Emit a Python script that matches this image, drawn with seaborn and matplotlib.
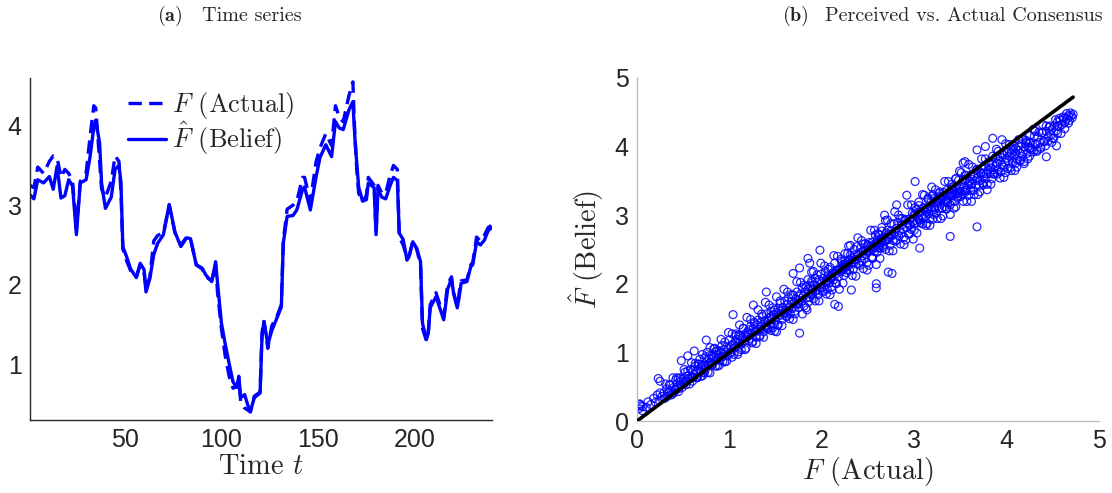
import numpy as np
import pandas as pd
import seaborn as sns
import matplotlib.pyplot as plt

# ---------------- time series: actual consensus vs. belief ----------------
time_t = [1, 3, 5, 8, 11, 13, 15, 17, 19, 21, 23, 25, 27, 30, 32, 34, 35, 37, 38, 40,
          43, 45, 47, 48, 49, 51, 53, 56, 58, 60, 61, 63, 65, 67, 70, 73, 76, 79, 82, 84,
          87, 90, 92, 95, 97, 98, 100, 102, 104, 106, 108, 109, 110, 112, 114, 115, 117, 120, 121, 122,
          124, 126, 129, 131, 132, 134, 137, 139, 142, 143, 146, 149, 151, 154, 157, 159, 161, 163, 166, 168,
          169, 170, 171, 173, 175, 176, 179, 180, 181, 183, 185, 187, 189, 191, 192, 194, 196, 197, 199, 201,
          203, 204, 206, 207, 208, 211, 215, 217, 219, 220, 222, 223, 224, 227, 229, 230, 232, 234, 236, 238,
          240]
belief = [3.13, 3.08, 3.32, 3.28, 3.36, 3.20, 3.49, 3.09, 3.12, 3.32, 3.24, 2.63, 3.28, 3.32, 3.60, 3.98, 4.07, 3.78, 3.28, 2.96,
          3.10, 3.45, 3.50, 3.30, 2.48, 2.35, 2.20, 2.09, 2.27, 2.19, 1.91, 2.08, 2.38, 2.52, 2.63, 3.01, 2.66, 2.48, 2.59, 2.58,
          2.25, 2.21, 2.12, 2.04, 2.29, 2.02, 1.52, 1.25, 1.01, 0.78, 0.71, 0.85, 0.58, 0.62, 0.46, 0.41, 0.58, 0.64, 1.35, 1.54,
          1.25, 1.42, 1.60, 1.72, 2.52, 2.86, 2.87, 2.94, 3.20, 3.23, 2.94, 3.36, 3.60, 3.76, 3.61, 4.05, 3.97, 3.95, 4.20, 4.30,
          3.86, 3.53, 3.23, 3.05, 3.07, 3.28, 3.22, 2.63, 3.20, 3.10, 3.08, 3.23, 3.35, 3.31, 2.65, 2.57, 2.31, 2.35, 2.54, 2.46,
          2.29, 1.52, 1.31, 1.39, 1.71, 1.85, 1.56, 1.94, 2.08, 1.91, 1.71, 1.85, 2.02, 2.04, 2.23, 2.25, 2.54, 2.50, 2.56, 2.68,
          2.72]
actual = [3.25, 3.22, 3.48, 3.40, 3.55, 3.62, 3.60, 3.35, 3.45, 3.40, 3.30, 2.70, 3.30, 3.40, 3.85, 4.25, 4.22, 3.55, 3.20, 3.10,
          3.30, 3.62, 3.55, 3.20, 2.45, 2.30, 2.18, 2.10, 2.25, 2.15, 1.95, 2.10, 2.55, 2.62, 2.65, 3.00, 2.65, 2.50, 2.60, 2.58,
          2.25, 2.20, 2.10, 2.05, 2.25, 1.90, 1.45, 1.10, 0.85, 0.70, 0.72, 0.80, 0.52, 0.45, 0.42, 0.40, 0.60, 0.65, 1.40, 1.55,
          1.20, 1.48, 1.62, 1.75, 2.55, 2.95, 3.00, 3.05, 3.35, 3.35, 3.05, 3.55, 3.72, 3.90, 3.75, 4.25, 4.10, 4.05, 4.38, 4.55,
          3.90, 3.45, 3.15, 3.05, 3.12, 3.35, 3.25, 2.65, 3.25, 3.15, 3.15, 3.35, 3.50, 3.45, 2.60, 2.50, 2.35, 2.35, 2.55, 2.45,
          2.25, 1.45, 1.30, 1.40, 1.75, 1.90, 1.60, 2.00, 2.10, 1.90, 1.72, 1.90, 2.05, 2.06, 2.25, 2.28, 2.60, 2.55, 2.62, 2.72,
          2.75]

# ---------------- scatter: actual F vs. perceived F-hat ----------------
low_F = [0.02, 0.04, 0.06, 0.03, 0.10, 0.12, 0.15, 0.18, 0.20, 0.22, 0.24, 0.25, 0.27, 0.29, 0.30, 0.32, 0.33, 0.35,
         0.36, 0.38, 0.40, 0.41, 0.42, 0.44, 0.45, 0.47, 0.48, 0.50, 0.51, 0.52, 0.54, 0.55, 0.57, 0.58, 0.60,
         0.61, 0.62, 0.63, 0.64, 0.65, 0.66, 0.67, 0.68, 0.69, 0.70, 0.71, 0.72, 0.73, 0.74, 0.75, 0.76, 0.77, 0.78,
         0.79, 0.80, 0.81, 0.82, 0.83, 0.84, 0.85, 0.86, 0.87, 0.88, 0.89, 0.90, 0.91, 0.92, 0.93, 0.94, 0.95, 0.96,
         0.97, 0.98, 0.99, 1.00, 1.01, 1.02, 1.03, 1.04, 1.05, 1.06, 1.07, 1.08, 1.09, 1.10, 1.11, 1.12, 1.13, 1.14,
         1.15, 1.16, 1.17, 1.18, 1.19, 1.20]
low_Fhat = [0.18, 0.22, 0.15, 0.25, 0.20, 0.28, 0.24, 0.33, 0.27, 0.38, 0.30, 0.58, 0.36, 0.41, 0.33, 0.47, 0.40, 0.44,
            0.52, 0.39, 0.49, 0.45, 0.60, 0.50, 0.43, 0.57, 0.52, 0.62, 0.55, 0.71, 0.58, 0.66, 0.61, 0.75, 0.64,
            0.74, 0.68, 0.80, 0.71, 0.63, 0.83, 0.76, 0.90, 0.72, 0.82, 0.66, 0.80, 0.92, 0.75, 0.86, 1.00, 0.81, 0.91,
            0.70, 0.86, 0.95, 0.83, 0.92, 1.06, 0.88, 0.97, 0.80, 0.93, 1.02, 0.89, 0.99, 1.10, 0.94, 1.04, 0.86, 1.00,
            1.08, 0.95, 1.05, 1.18, 1.00, 1.10, 0.93, 1.12, 1.06, 1.15, 1.27, 1.09, 1.19, 1.01, 1.14, 1.24, 1.12, 1.21,
            1.35, 1.17, 1.27, 1.06, 1.22, 1.30]

mid_F = [1.21, 1.22, 1.23, 1.24, 1.25, 1.26, 1.27, 1.28, 1.29, 1.30, 1.31, 1.32, 1.33, 1.34, 1.35, 1.36, 1.37, 1.38, 1.39, 1.40,
         1.41, 1.42, 1.43, 1.44, 1.45, 1.46, 1.47, 1.48, 1.49, 1.50, 1.51, 1.52, 1.53, 1.54, 1.55, 1.56, 1.57, 1.58, 1.59, 1.60,
         1.61, 1.62, 1.63, 1.64, 1.65, 1.66, 1.67, 1.68, 1.69, 1.70, 1.71, 1.72, 1.73, 1.74, 1.75, 1.76, 1.77, 1.78, 1.79, 1.80,
         1.81, 1.82, 1.83, 1.84, 1.85, 1.86, 1.87, 1.88, 1.89, 1.90, 1.91, 1.92, 1.93, 1.94, 1.95, 1.96, 1.97, 1.98, 1.99, 2.00,
         2.01, 2.02, 2.03, 2.04, 2.05, 2.06, 2.07, 2.08, 2.09, 2.10, 2.11, 2.12, 2.13, 2.14, 2.15, 2.16, 2.17, 2.18, 2.19, 2.20,
         2.21, 2.22, 2.23, 2.24, 2.25, 2.26, 2.27, 2.28, 2.29, 2.30, 2.31, 2.32, 2.33, 2.34, 2.35, 2.36, 2.37, 2.38, 2.39, 2.40,
         2.41, 2.42, 2.43, 2.44, 2.45, 2.46, 2.47, 2.48, 2.49, 2.50, 2.51, 2.52, 2.53, 2.54, 2.55, 2.56, 2.57, 2.58, 2.59, 2.60,
         2.61, 2.62, 2.63, 2.64, 2.65, 2.66, 2.67, 2.68, 2.69, 2.70, 2.71, 2.72, 2.73, 2.74, 2.75, 2.76, 2.77, 2.78, 2.79, 2.80,
         2.81, 2.82, 2.83, 2.84, 2.85, 2.86, 2.87, 2.88, 2.89, 2.90, 2.91, 2.92, 2.93, 2.94, 2.95, 2.96, 2.97, 2.98, 2.99, 3.00,
         3.01, 3.02, 3.03, 3.04, 3.05, 3.06, 3.07, 3.08, 3.09, 3.10, 3.11, 3.12, 3.13, 3.14, 3.15, 3.16, 3.17, 3.18, 3.19, 3.20]
mid_Fhat = [1.33, 1.20, 1.38, 1.28, 1.16, 1.35, 1.42, 1.30, 1.22, 1.40, 1.47, 1.33, 1.25, 1.44, 1.38, 1.52, 1.30, 1.45, 1.37, 1.56,
            1.46, 1.34, 1.50, 1.42, 1.60, 1.48, 1.36, 1.55, 1.62, 1.47, 1.58, 1.40, 1.64, 1.55, 1.72, 1.60, 1.48, 1.66, 1.58, 1.75,
            1.62, 1.52, 1.70, 1.80, 1.66, 1.56, 1.74, 1.64, 1.84, 1.72, 1.60, 1.78, 1.88, 1.70, 1.82, 1.76, 1.85, 1.74, 1.94, 1.82,
            1.68, 1.88, 1.96, 1.80, 1.92, 1.74, 1.97, 1.86, 2.04, 1.92, 1.78, 1.98, 2.08, 1.90, 2.02, 1.84, 2.06, 1.95, 2.14, 2.01,
            1.88, 2.08, 1.98, 2.18, 2.05, 1.92, 2.12, 2.02, 2.24, 2.10, 1.96, 2.16, 2.06, 2.30, 2.14, 2.00, 2.20, 2.10, 2.22, 2.17,
            2.33, 2.20, 2.28, 2.12, 2.33, 2.25, 2.20, 2.44, 2.31, 2.20, 2.42, 2.30, 2.37, 2.21, 2.42, 2.35, 2.29, 2.54, 2.41, 2.29,
            2.45, 2.52, 2.33, 2.41, 2.58, 2.37, 2.49, 2.43, 2.31, 2.55, 2.60, 2.48, 2.55, 2.39, 2.61, 2.53, 2.47, 2.71, 2.58, 2.46,
            2.63, 2.71, 2.52, 2.60, 2.77, 2.56, 2.68, 2.62, 2.50, 2.74, 2.78, 2.65, 2.72, 2.56, 2.77, 2.70, 2.63, 2.87, 2.75, 2.62,
            2.81, 2.89, 2.70, 2.78, 2.95, 2.74, 2.86, 2.80, 2.68, 2.92, 2.94, 2.82, 2.88, 2.72, 2.94, 2.86, 2.79, 3.03, 2.91, 2.78,
            3.00, 3.08, 2.89, 2.97, 3.14, 2.93, 3.05, 2.99, 2.87, 3.11, 3.10, 2.98, 3.04, 2.88, 3.10, 3.02, 2.95, 3.19, 3.07, 2.94]

high_F = [3.21, 3.22, 3.23, 3.24, 3.25, 3.26, 3.27, 3.28, 3.29, 3.30, 3.31, 3.32, 3.33, 3.34, 3.35, 3.36, 3.37, 3.38, 3.39, 3.40,
          3.41, 3.42, 3.43, 3.44, 3.45, 3.46, 3.47, 3.48, 3.49, 3.50, 3.51, 3.52, 3.53, 3.54, 3.55, 3.56, 3.57, 3.58, 3.59, 3.60,
          3.61, 3.62, 3.63, 3.64, 3.65, 3.66, 3.67, 3.68, 3.69, 3.70, 3.71, 3.72, 3.73, 3.74, 3.75, 3.76, 3.77, 3.78, 3.79, 3.80,
          3.81, 3.82, 3.83, 3.84, 3.85, 3.86, 3.87, 3.88, 3.89, 3.90, 3.91, 3.92, 3.93, 3.94, 3.95, 3.96, 3.97, 3.98, 3.99, 4.00,
          4.01, 4.02, 4.03, 4.04, 4.05, 4.06, 4.07, 4.08, 4.09, 4.10, 4.11, 4.12, 4.13, 4.14, 4.15, 4.16, 4.17, 4.18, 4.19, 4.20,
          4.21, 4.22, 4.23, 4.25, 4.26, 4.27, 4.29, 4.30, 4.31, 4.33, 4.34, 4.36, 4.37, 4.39, 4.40, 4.42, 4.43, 4.45, 4.46, 4.48,
          4.49, 4.50, 4.52, 4.54, 4.55, 4.57, 4.58, 4.60, 4.62, 4.63, 4.65, 4.67, 4.68, 4.70, 4.71, 4.72]
high_Fhat = [3.24, 3.11, 3.19, 3.03, 3.24, 3.17, 3.10, 3.34, 3.22, 3.10, 3.27, 3.33, 3.12, 3.20, 3.36, 3.18, 3.26, 3.30, 3.15, 3.37,
             3.41, 3.28, 3.36, 3.20, 3.40, 3.33, 3.27, 3.51, 3.39, 3.27, 3.45, 3.30, 3.52, 3.41, 3.33, 3.58, 3.37, 3.44, 3.29, 3.50,
             3.58, 3.45, 3.52, 3.36, 3.57, 3.50, 3.44, 3.67, 3.55, 3.43, 3.50, 3.62, 3.68, 3.47, 3.56, 3.72, 3.53, 3.60, 3.45, 3.66,
             3.74, 3.61, 3.69, 3.53, 3.74, 3.66, 3.60, 3.84, 3.72, 3.60, 3.66, 3.79, 3.85, 3.63, 3.73, 3.88, 3.70, 3.77, 3.62, 3.83,
             3.91, 3.78, 3.86, 3.69, 3.90, 3.83, 3.77, 4.01, 3.89, 3.76, 3.82, 3.95, 4.01, 3.80, 3.90, 4.04, 3.86, 3.93, 3.78, 3.99,
             4.05, 3.90, 3.99, 3.86, 4.06, 3.98, 3.92, 4.15, 4.03, 3.95, 4.14, 4.06, 3.99, 4.20, 4.08, 4.01, 4.22, 4.14, 4.28, 4.17,
             4.25, 4.12, 4.30, 4.23, 4.36, 4.29, 4.38, 4.32, 4.41, 4.35, 4.40, 4.45, 4.38, 4.45, 4.42, 4.47]

# wider halo of the cloud, on both sides of its core
halo_F = [0.31, 0.33, 0.35, 0.37, 0.39, 0.41, 0.43, 0.45, 0.47, 0.49,
          0.51, 0.53, 0.55, 0.57, 0.59, 0.61, 0.63, 0.65, 0.67, 0.69,
          0.71, 0.73, 0.75, 0.77, 0.79, 0.81, 0.83, 0.85, 0.87, 0.89,
          0.91, 0.93, 0.95, 0.97, 0.99, 1.01, 1.03, 1.05, 1.07, 1.09,
          1.11, 1.13, 1.15, 1.17, 1.19, 1.21, 1.23, 1.25, 1.27, 1.29,
          1.31, 1.33, 1.35, 1.37, 1.39, 1.41, 1.43, 1.45, 1.47, 1.49,
          1.51, 1.53, 1.55, 1.57, 1.59, 1.61, 1.63, 1.65, 1.67, 1.69,
          1.71, 1.73, 1.75, 1.77, 1.79, 1.81, 1.83, 1.85, 1.87, 1.89,
          1.91, 1.93, 1.95, 1.97, 1.99, 2.01, 2.03, 2.05, 2.07, 2.09,
          2.11, 2.13, 2.15, 2.17, 2.19, 2.21, 2.23, 2.25, 2.27, 2.29,
          2.31, 2.33, 2.35, 2.37, 2.39, 2.41, 2.43, 2.45, 2.47, 2.49,
          2.51, 2.53, 2.55, 2.57, 2.59, 2.61, 2.63, 2.65, 2.67, 2.69,
          2.71, 2.73, 2.75, 2.77, 2.79, 2.81, 2.83, 2.85, 2.87, 2.89,
          2.91, 2.93, 2.95, 2.97, 2.99, 3.01, 3.03, 3.05, 3.07, 3.09,
          3.11, 3.13, 3.15, 3.17, 3.19, 3.21, 3.23, 3.25, 3.27, 3.29,
          3.31, 3.33, 3.35, 3.37, 3.39, 3.41, 3.43, 3.45, 3.47, 3.49,
          3.51, 3.53, 3.55, 3.57, 3.59, 3.61, 3.63, 3.65, 3.67, 3.69,
          3.71, 3.73, 3.75, 3.77, 3.79, 3.81, 3.83, 3.85, 3.87, 3.89,
          3.91, 3.93, 3.95, 3.97, 3.99, 4.01, 4.03, 4.05, 4.07, 4.09,
          4.11, 4.13, 4.15, 4.17, 4.19, 4.21, 4.23, 4.25, 4.27, 4.29,
          4.31, 4.33, 4.35, 4.37, 4.39, 4.41, 4.43, 4.45, 4.47, 4.49,
          4.51, 4.53, 4.55, 4.57, 4.59, 4.61, 4.63, 4.65, 4.67, 4.69]
halo_Fhat = [0.54, 0.36, 0.53, 0.38, 0.63, 0.46, 0.63, 0.47, 0.63, 0.49,
             0.75, 0.53, 0.73, 0.54, 0.85, 0.64, 0.84, 0.63, 0.83, 0.65,
             0.97, 0.70, 0.94, 0.71, 1.07, 0.82, 1.05, 0.80, 1.03, 0.81,
             1.19, 0.87, 1.15, 0.87, 1.29, 0.99, 1.27, 0.97, 1.24, 0.97,
             1.40, 1.04, 1.35, 1.04, 1.51, 1.17, 1.48, 1.14, 1.44, 1.13,
             1.62, 1.23, 1.56, 1.22, 1.73, 1.36, 1.69, 1.32, 1.65, 1.31,
             1.81, 1.40, 1.75, 1.39, 1.92, 1.53, 1.88, 1.49, 1.84, 1.48,
             1.56, 2.03, 1.65, 2.02, 1.56, 1.98, 1.65, 2.06, 1.80, 2.17,
             2.18, 1.75, 2.13, 1.75, 2.30, 1.90, 2.26, 1.85, 2.21, 1.84,
             1.91, 2.41, 2.01, 2.40, 1.92, 2.36, 2.01, 2.44, 2.16, 2.55,
             2.56, 2.12, 2.50, 2.11, 2.67, 2.27, 2.63, 2.22, 2.58, 2.20,
             2.27, 2.78, 2.37, 2.78, 2.28, 2.73, 2.37, 2.82, 2.53, 2.92,
             2.93, 2.48, 2.88, 2.48, 3.05, 2.64, 3.00, 2.58, 2.95, 2.57,
             2.64, 3.15, 2.73, 3.15, 2.65, 3.11, 2.74, 3.19, 2.89, 3.30,
             3.29, 2.85, 3.25, 2.85, 3.41, 3.01, 3.37, 2.95, 3.32, 2.95,
             2.99, 3.49, 3.09, 3.49, 3.01, 3.45, 3.10, 3.53, 3.25, 3.64,
             3.62, 3.20, 3.58, 3.20, 3.74, 3.36, 3.70, 3.30, 3.65, 3.30,
             3.34, 3.82, 3.44, 3.82, 3.37, 3.78, 3.45, 3.86, 3.60, 3.96,
             3.93, 3.54, 3.90, 3.55, 4.04, 3.68, 4.03, 3.65, 3.97, 3.65,
             3.70, 4.10, 3.79, 4.11, 3.75, 4.09, 3.82, 4.16, 3.95, 4.25,
             4.22, 3.93, 4.21, 3.97, 4.32, 4.07, 4.30, 4.08, 4.30, 4.06,
             4.12, 4.39, 4.19, 4.41, 4.19, 4.43, 4.26, 4.48, 4.34, 4.49]

stray_F = [0.03, 0.06, 0.23, 0.25, 0.48, 0.55, 0.62, 0.75, 1.04, 1.26, 1.40, 1.51, 1.69, 1.76, 1.84, 1.85, 1.87, 1.98,
           1.76, 2.14, 2.18, 2.32, 2.59, 2.59, 2.68, 2.72, 2.76, 2.81, 2.92, 3.01, 3.06, 3.39, 3.53, 3.68, 3.68, 3.77,
           3.85, 3.95, 4.43, 4.54]
stray_Fhat = [0.24, 0.21, 0.62, 0.41, 0.88, 0.95, 1.02, 1.18, 1.55, 1.69, 1.88, 1.30, 2.15, 1.28, 1.62, 2.37, 2.30, 2.49,
              2.23, 1.70, 1.67, 1.91, 2.00, 1.94, 3.00, 2.17, 2.15, 3.15, 3.29, 3.49, 2.52, 2.69, 3.76, 2.83, 3.95, 4.00,
              4.12, 4.10, 3.85, 4.01]

# extent of the identity reference line
identity_line = [0.0, 4.72]

# ---------------- styling ----------------
sns.set_theme(style="white")
plt.rcParams.update({
    "font.family": "serif",
    "font.serif": ["cmr10"],
    "mathtext.fontset": "cm",
    "axes.unicode_minus": False,
    "axes.formatter.use_mathtext": True,
})
BLUE = "#0000ff"
TICK_FONT = "Liberation Sans"
TICK_SIZE = 18
LABEL_SIZE = 20.5

fig = plt.figure(figsize=(11.12, 4.93), dpi=100)
ax1 = fig.add_axes([0.027, 0.148, 0.4155, 0.694])
ax2 = fig.add_axes([0.5728, 0.146, 0.4155, 0.696])

# ---- panel (a): time series ----
ts = pd.DataFrame({"t": time_t, "actual": actual, "belief": belief})
sns.lineplot(data=ts, x="t", y="actual", ax=ax1, color=BLUE, lw=2.4,
             linestyle="--", label=r"$F$ (Actual)")
ax1.lines[-1].set_dashes([4.0, 2.2])
sns.lineplot(data=ts, x="t", y="belief", ax=ax1, color=BLUE, lw=2.4,
             label=r"$\hat{F}$ (Belief)")

ax1.set_xlim(1, 240)
ax1.set_ylim(0.3, 4.6)
ax1.set_xticks([50, 100, 150, 200])
ax1.set_xticklabels(["50", "100", "150", "200"], fontfamily=TICK_FONT, fontsize=TICK_SIZE)
ax1.set_yticks([1, 2, 3, 4])
ax1.set_yticklabels(["1", "2", "3", "4"], fontfamily=TICK_FONT, fontsize=TICK_SIZE)
ax1.set_xlabel(r"Time $t$", fontsize=LABEL_SIZE, labelpad=1)
ax1.set_ylabel("")
ax1.legend(loc="upper left", bbox_to_anchor=(0.212, 0.965), frameon=False,
           fontsize=19, handlelength=1.45, handletextpad=0.2, labelspacing=-0.05,
           borderpad=0.0, borderaxespad=0.0)

# ---- panel (b): scatter ----
cloud = pd.DataFrame({
    "F": low_F + mid_F + high_F + halo_F + stray_F + actual,
    "Fhat": low_Fhat + mid_Fhat + high_Fhat + halo_Fhat + stray_Fhat + belief,
})
sns.scatterplot(data=cloud, x="F", y="Fhat", ax=ax2, marker="o", s=32,
                linewidth=0.9, color=BLUE, legend=False, zorder=2)
coll = ax2.collections[-1]
coll.set_facecolor("none")
coll.set_edgecolor((0, 0, 1, 0.85))

sns.lineplot(x=identity_line, y=identity_line, ax=ax2, color="black", lw=2.6, zorder=3)

ax2.set_xlim(0, 5)
ax2.set_ylim(0, 5)
ax2.set_xticks(range(6))
ax2.set_xticklabels([str(v) for v in range(6)], fontfamily=TICK_FONT, fontsize=TICK_SIZE)
ax2.set_yticks(range(6))
ax2.set_yticklabels([str(v) for v in range(6)], fontfamily=TICK_FONT, fontsize=TICK_SIZE)
ax2.set_xlabel(r"$F$ (Actual)", fontsize=LABEL_SIZE, labelpad=1)
ax2.set_ylabel(r"$\hat{F}$ (Belief)", fontsize=LABEL_SIZE, labelpad=6)

# ---- axes appearance (box off, inward ticks) ----
for ax, spine_col in ((ax1, "#262626"), (ax2, "#bdbdbd")):
    for side in ("top", "right"):
        ax.spines[side].set_visible(False)
    for side in ("left", "bottom"):
        ax.spines[side].set_color(spine_col)
        ax.spines[side].set_linewidth(1.0)
    ax.tick_params(direction="in", length=4, width=0.8, color=spine_col,
                   labelcolor="#262626", pad=6)
    ax.grid(False)
    ax.set_facecolor("white")

# ---- panel captions ----
fig.text(0.141, 0.968, r"$\mathbf{(a)}$", fontsize=14.5, va="center", ha="left")
fig.text(0.182, 0.968, "Time series", fontsize=14.5, va="center", ha="left")
fig.text(0.703, 0.968, r"$\mathbf{(b)}$", fontsize=14.5, va="center", ha="left")
fig.text(0.742, 0.968, "Perceived vs. Actual Consensus", fontsize=14.5, va="center", ha="left")

fig.savefig("out.png", dpi=100, facecolor="white")
